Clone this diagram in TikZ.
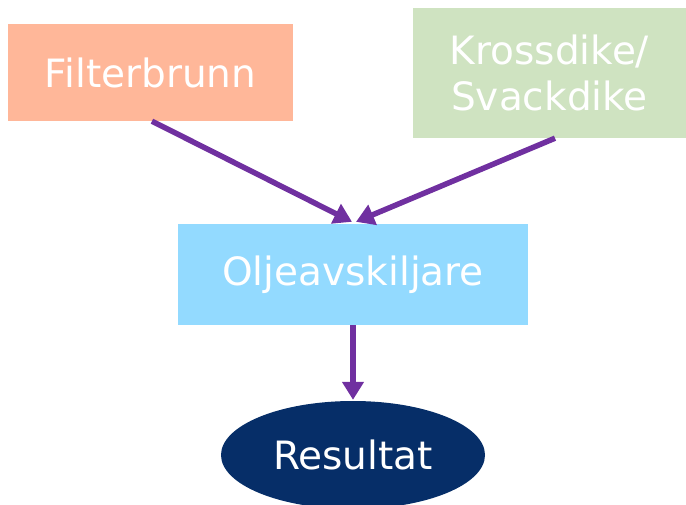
\documentclass[tikz,border=0pt]{standalone}
\usepackage{fontspec}
\setmainfont{DejaVu Sans}
\usetikzlibrary{arrows.meta,shapes.geometric}
\definecolor{salmon}{HTML}{FFB799}
\definecolor{lgreen}{HTML}{CFE3C1}
\definecolor{lblue}{HTML}{93DAFF}
\definecolor{navy}{HTML}{062E68}
\definecolor{purp}{HTML}{7030A0}
\begin{document}
\begin{tikzpicture}[x=1pt,y=-1pt,
  boxstyle/.style={rectangle,inner sep=0pt,text=white,align=center,
    font=\fontsize{39}{46}\selectfont},
  arr/.style={draw=purp,line width=5.5pt,-{Triangle[length=18pt,width=21pt]}}]
\clip (0,0) rectangle (686,504);
\useasboundingbox (0,0) rectangle (686,504);
\node[boxstyle,fill=salmon,minimum width=285pt,minimum height=97pt] (f) at (150.5,72.5) {Filterbrunn};
\node[boxstyle,fill=lgreen,minimum width=273pt,minimum height=130pt] (k) at (549.5,73) {Krossdike/\\Svackdike};
\node[boxstyle,fill=lblue,minimum width=350pt,minimum height=101pt] (o) at (353,274.5) {Oljeavskiljare};
\node[boxstyle,ellipse,fill=navy,minimum width=264pt,minimum height=108pt] (r) at (353,455) {Resultat};
\draw[arr] ([xshift=1.5pt]f.south) -- ([xshift=-1pt,yshift=2pt]o.north);
\draw[arr] ([xshift=5.5pt]k.south) -- ([xshift=3pt,yshift=2pt]o.north);
\draw[arr] (o.south) -- ([yshift=1pt]r.north);
\end{tikzpicture}
\end{document}
